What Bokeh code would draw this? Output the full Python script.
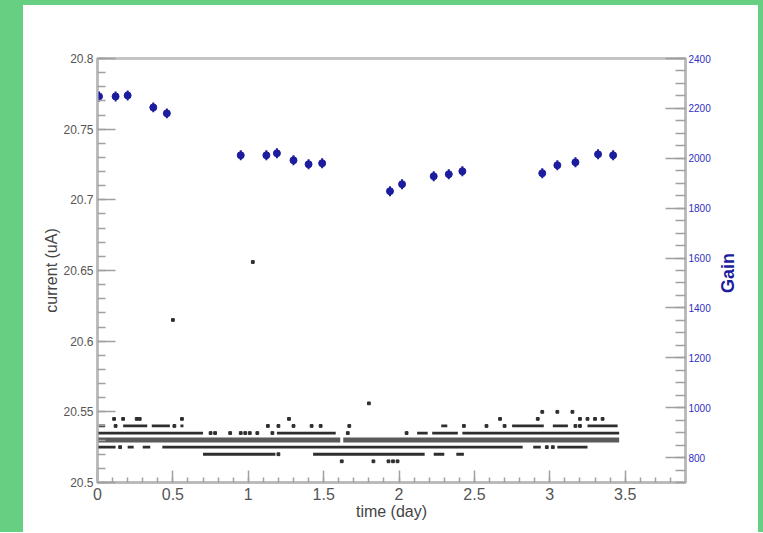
import math

from bokeh.plotting import figure
from bokeh.models import (Range1d, LinearAxis, SingleIntervalTicker, FixedTicker,
                          NumeralTickFormatter, ColumnDataSource, Spacer)
from bokeh.layouts import row, column
from bokeh.embed import file_html
from bokeh.resources import INLINE

# gain measurements (blue points, right axis)
gain_time = [0.01, 0.12, 0.20, 0.37, 0.46, 0.95, 1.12, 1.19, 1.30, 1.40, 1.49,
             1.94, 2.02, 2.23, 2.33, 2.42, 2.95, 3.05, 3.17, 3.32, 3.42]
gain = [2248, 2248, 2252, 2204, 2180, 2012, 2012, 2020, 1992, 1976, 1980,
        1868, 1896, 1928, 1936, 1948, 1940, 1972, 1984, 2016, 2012]
gain_err = [20, 20, 20, 20, 20, 20, 20, 20, 20, 20, 20,
            20, 20, 20, 20, 20, 20, 20, 20, 20, 20]

# current readings (uA): quantized levels, continuous runs (start, end day) and single readings
level_20550_dots = [2.95, 3.05, 3.15]
level_20545_dots = [0.11, 0.17, 0.26, 0.28, 0.56, 1.27, 2.67, 2.92, 3.20, 3.25, 3.30, 3.35]
level_20540_runs = [(0.01, 0.05), (0.17, 0.33), (0.36, 0.48), (0.55, 0.57),
                    (2.28, 2.32), (2.75, 2.96), (3.02, 3.12), (3.25, 3.45)]
level_20540_dots = [0.12, 0.51, 1.13, 1.20, 1.30, 1.42, 1.48, 1.67, 2.43, 2.58, 2.70, 3.17, 3.20]
level_20535_runs = [(0.0, 0.70), (1.19, 1.58), (2.12, 2.19), (2.22, 2.39), (2.42, 3.46)]
level_20535_dots = [0.75, 0.78, 0.88, 0.95, 0.98, 1.01, 1.06, 1.16, 1.66, 2.05]
level_20530_runs = [(0.0, 1.61), (1.63, 3.46)]
level_20525_runs = [(0.0, 0.12), (0.20, 0.24), (0.30, 0.35), (0.43, 2.82),
                    (2.89, 2.94), (3.05, 3.25)]
level_20525_dots = [0.15, 2.98, 3.02]
level_20520_runs = [(0.70, 1.18), (1.43, 2.17), (2.23, 2.30), (2.38, 2.43)]
level_20520_dots = [1.20]
level_20515_dots = [1.62, 1.83, 1.93, 1.96, 1.99]
outlier_time = [0.50, 1.03, 1.80]
outlier_current = [20.615, 20.656, 20.556]

GREEN = "#66cf82"
BLUE = "#1c1c9e"
FONT = "Liberation Sans"

runs = [(20.540, level_20540_runs), (20.535, level_20535_runs),
        (20.525, level_20525_runs), (20.520, level_20520_runs)]
dots = [(20.550, level_20550_dots), (20.545, level_20545_dots),
        (20.540, level_20540_dots), (20.535, level_20535_dots),
        (20.525, level_20525_dots), (20.520, level_20520_dots),
        (20.515, level_20515_dots)]

seg = dict(x0=[], x1=[], y=[])
for lvl, rr in runs:
    for a, b in rr:
        seg["x0"].append(a)
        seg["x1"].append(b)
        seg["y"].append(lvl)

pts = dict(x=list(outlier_time), y=list(outlier_current))
for lvl, dd in dots:
    for t in dd:
        pts["x"].append(t)
        pts["y"].append(lvl)

p = figure(width=735, height=527, x_range=Range1d(0, 3.9), y_range=Range1d(20.5, 20.8),
           output_backend="svg", toolbar_location=None,
           min_border_left=74, min_border_right=73, min_border_top=53, min_border_bottom=50)
p.extra_y_ranges = {"gain": Range1d(700, 2400)}
p.xgrid.visible = False
p.ygrid.visible = False
p.outline_line_color = "#c4c4c4"
p.outline_line_width = 3

# current data
p.segment(x0="x0", y0="y", x1="x1", y1="y", source=ColumnDataSource(seg),
          line_color="#2e2e2e", line_width=2.8)
p.segment(x0=[a for a, b in level_20530_runs], y0=[20.530] * len(level_20530_runs),
          x1=[b for a, b in level_20530_runs], y1=[20.530] * len(level_20530_runs),
          line_color="#5a5a5a", line_width=5)
p.scatter(x="x", y="y", source=ColumnDataSource(pts), marker="square",
          size=2.8, color="#2e2e2e")

# gain data with error bars
p.segment(x0=gain_time, y0=[g - e for g, e in zip(gain, gain_err)],
          x1=gain_time, y1=[g + e for g, e in zip(gain, gain_err)],
          y_range_name="gain", line_color=BLUE, line_width=2)
p.scatter(gain_time, gain, y_range_name="gain", size=7, color=BLUE)

# axes
xa = p.xaxis[0]
xa.ticker = SingleIntervalTicker(interval=0.5, num_minor_ticks=5)
xa.formatter = NumeralTickFormatter(format="0.[0]")
xa.axis_label = "time (day)"
xa.major_tick_in, xa.major_tick_out = 12, 0
xa.minor_tick_in, xa.minor_tick_out = 5, 0
xa.major_label_standoff = 5
xa.major_label_text_font_size = "16px"
xa.axis_label_standoff = 0

ya = p.yaxis[0]
ya.ticker = SingleIntervalTicker(interval=0.05, num_minor_ticks=5)
ya.formatter = NumeralTickFormatter(format="0.[00]")
ya.axis_label = "current (uA)"
ya.major_tick_in, ya.major_tick_out = 18, 0
ya.minor_tick_in, ya.minor_tick_out = 8, 0
ya.major_label_standoff = 4
ya.major_label_text_font_size = "12px"
ya.axis_label_standoff = 0

ra = LinearAxis(y_range_name="gain",
                ticker=SingleIntervalTicker(interval=200, num_minor_ticks=4))
ra.major_tick_in, ra.major_tick_out = 20, 0
ra.minor_tick_in, ra.minor_tick_out = 10, 0
ra.major_label_standoff = 3
ra.major_label_text_font_size = "10px"
ra.major_label_text_color = "#3030c0"
p.add_layout(ra, "right")

# right axis title, reading bottom to top (a single fixed tick label)
ga = LinearAxis(y_range_name="gain", ticker=FixedTicker(ticks=[1460], minor_ticks=[]),
                major_label_overrides={1460: "Gain"}, major_label_orientation=math.pi / 2,
                major_tick_in=0, major_tick_out=0, minor_tick_in=0, minor_tick_out=0,
                axis_line_color=None, major_tick_line_color=None, minor_tick_line_color=None,
                major_label_standoff=15, major_label_text_color=BLUE,
                major_label_text_font=FONT, major_label_text_font_size="18px",
                major_label_text_font_style="bold")
p.add_layout(ga, "right")

for ax in (xa, ya, ra):
    ax.axis_line_color = "#b8b8b8"
    ax.axis_line_width = 2
    ax.major_tick_line_color = "#a0a0a0"
    ax.minor_tick_line_color = "#a0a0a0"
    ax.major_tick_line_width = 1.5
    ax.minor_tick_line_width = 1.5
    ax.major_label_text_font = FONT
    ax.axis_label_text_font = FONT
for ax in (xa, ya):
    ax.major_label_text_color = "#555555"
    ax.axis_label_text_color = "#444444"
    ax.axis_label_text_font_style = "normal"
    ax.axis_label_text_font_size = "16px"

layout = column(
    Spacer(width=763, height=5, styles={"background-color": GREEN}),
    row(Spacer(width=23, height=527, styles={"background-color": GREEN}),
        p,
        Spacer(width=5, height=527, styles={"background-color": GREEN})))

open("out.html", "w").write(file_html(layout, INLINE))
